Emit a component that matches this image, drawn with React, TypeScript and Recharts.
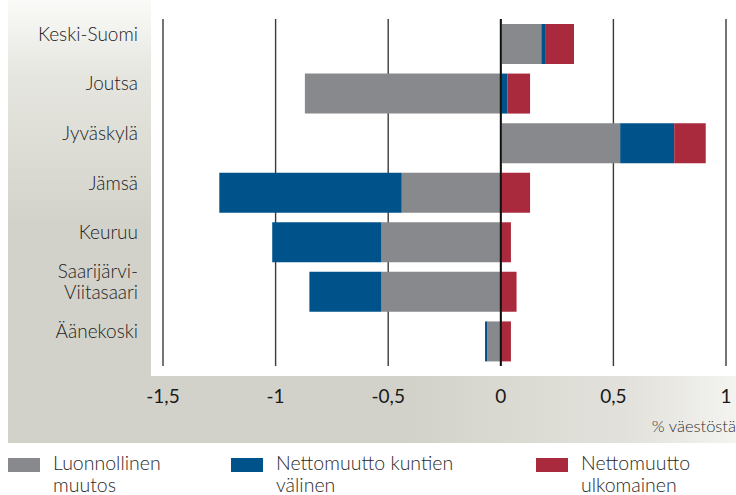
import { Bar, BarChart, CartesianGrid, Legend, ReferenceLine, XAxis, YAxis } from "recharts";

const regions = ["Keski-Suomi", "Joutsa", "Jyväskylä", "Jämsä", "Keuruu", "Saarijärvi-|Viitasaari", "Äänekoski"];
const natural = [0.18, -0.87, 0.53, -0.44, -0.53, -0.53, -0.06];
const domestic = [0.02, 0.03, 0.24, -0.81, -0.485, -0.32, -0.01];
const foreign = [0.125, 0.1, 0.14, 0.13, 0.045, 0.07, 0.045];
const xTicks = [-1.5, -1, -0.5, 0, 0.5, 1];

const seriesNames = ["Luonnollinen|muutos", "Nettomuutto kuntien|välinen", "Nettomuutto|ulkomainen"];
const colors = ["#88898d", "#00538a", "#a92a3c"];

const data = regions.map((region, i) => ({
	region,
	natural: natural[i],
	domestic: domestic[i],
	foreign: foreign[i],
}));

const FONT = "Lato, 'Open Sans', sans-serif";

const RegionTick = ({ x, y, payload }: any) => {
	const lines = String(payload.value).split("|");
	const start = y - ((lines.length - 1) * 21) / 2;
	return (
		<text x={x} y={start} textAnchor="end" fill="#222" fontSize={19} fontWeight={300} fontFamily={FONT}>
			{lines.map((line, i) => (
				<tspan key={i} x={x} dy={i === 0 ? -3 : 21}>
					{line}
				</tspan>
			))}
		</text>
	);
};

const LegendBlock = () => {
	const lefts = [8, 231, 536];
	return (
		<div style={{ position: "relative", width: 736, height: 43, fontFamily: FONT }}>
			{seriesNames.map((name, i) => (
				<div key={name} style={{ position: "absolute", left: lefts[i], top: 0 }}>
					<div
						style={{
							position: "absolute",
							left: 0,
							top: 6,
							width: 32,
							height: 14,
							background: colors[i],
						}}
					/>
					<div
						style={{
							position: "absolute",
							left: 45,
							top: 0,
							whiteSpace: "nowrap",
							fontSize: 19.5,
							fontWeight: 300,
							lineHeight: "22px",
							color: "#2a2a2a",
						}}
					>
						{name.split("|").map((l) => (
							<div key={l}>{l}</div>
						))}
					</div>
				</div>
			))}
		</div>
	);
};

const UnitLabel = ({ viewBox }: any) => (
	<text
		x={viewBox.x + viewBox.width + 10}
		y={viewBox.y + 66}
		textAnchor="end"
		fill="#333"
		fontSize={16.5}
		fontWeight={300}
		fontFamily={FONT}
	>
		% väestöstä
	</text>
);

export default function App() {
	return (
		<div style={{ position: "absolute", left: 0, top: 0, width: 736, height: 495, background: "#fff", overflow: "hidden" }}>
			<div
				style={{
					position: "absolute",
					left: 8,
					top: 0,
					width: 143,
					height: 376,
					background: "linear-gradient(to bottom, #fafaf8 0%, #e6e6e0 20%, #d3d2ca 60%, #d3d2ca 100%)",
				}}
			/>
			<div
				style={{
					position: "absolute",
					left: 8,
					top: 376,
					width: 728,
					height: 67,
					background: "linear-gradient(to right, #d3d2ca 0%, #d3d2ca 55%, #e2e1db 85%, #f3f3f0 100%)",
				}}
			/>
			<div style={{ position: "absolute", left: 0, top: 0 }}>
				<BarChart
					width={736}
					height={495}
					data={data}
					layout="vertical"
					stackOffset="sign"
					barSize={40}
					margin={{ top: 19, right: 10, bottom: 0, left: 0 }}
				>
					<CartesianGrid horizontal={false} stroke="#3a3a3a" strokeWidth={1.4} />
					<XAxis
						type="number"
						domain={[-1.5, 1]}
						ticks={xTicks}
						axisLine={false}
						tickLine={false}
						tickSize={6}
						tickMargin={18}
						height={86}
						interval={0}
						tickFormatter={(v: number) => String(v).replace(".", ",")}
						tick={{ fill: "#1a1a1a", fontSize: 19, fontFamily: FONT }}
						label={<UnitLabel />}
					/>
					<YAxis
						type="category"
						dataKey="region"
						width={163}
						axisLine={false}
						tickLine={false}
						tickSize={0}
						tickMargin={25}
						interval={0}
						tick={<RegionTick />}
					/>
					<Bar dataKey="natural" name={seriesNames[0]} stackId="a" fill={colors[0]} isAnimationActive={false} />
					<Bar dataKey="domestic" name={seriesNames[1]} stackId="a" fill={colors[1]} isAnimationActive={false} />
					<Bar dataKey="foreign" name={seriesNames[2]} stackId="a" fill={colors[2]} isAnimationActive={false} />
					<ReferenceLine x={0} stroke="#111" strokeWidth={2} />
					<Legend
						content={<LegendBlock />}
						wrapperStyle={{ position: "absolute", left: 0, top: 452, width: 736, height: 43 }}
					/>
				</BarChart>
			</div>
		</div>
	);
}
